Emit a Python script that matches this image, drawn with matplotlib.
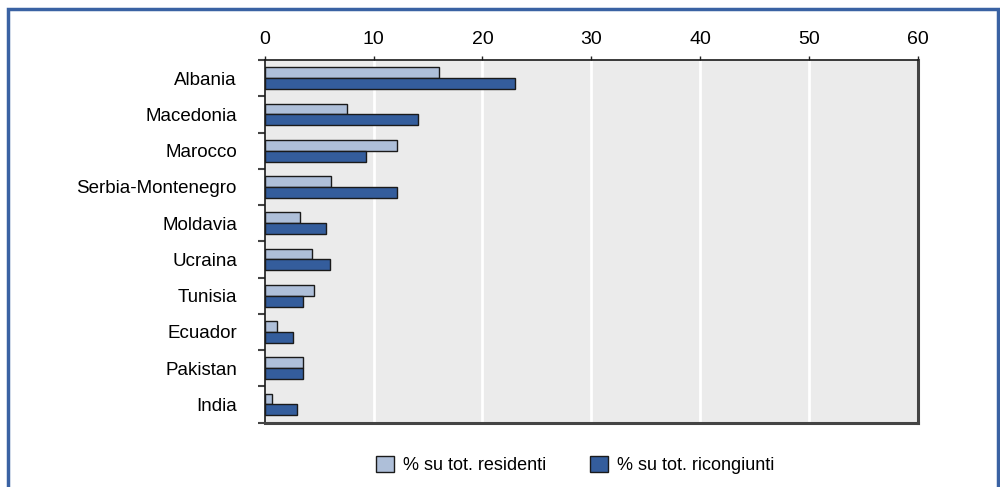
import matplotlib.pyplot as plt
from matplotlib.patches import Rectangle
import numpy as np

plt.rcParams['font.family'] = ['Liberation Sans', 'DejaVu Sans']

# Country shares, top to bottom
countries = ['Albania', 'Macedonia', 'Marocco', 'Serbia-Montenegro', 'Moldavia',
             'Ucraina', 'Tunisia', 'Ecuador', 'Pakistan', 'India']
residenti = [16.0, 7.6, 12.2, 6.1, 3.2, 4.3, 4.5, 1.1, 3.5, 0.7]
ricongiunti = [23.0, 14.1, 9.3, 12.2, 5.6, 6.0, 3.5, 2.6, 3.5, 3.0]
xticks = [0, 10, 20, 30, 40, 50, 60]

light = '#aebfd9'
dark = '#345d9c'

fig = plt.figure(figsize=(10, 4.87), dpi=100)
ax = fig.add_axes([0.2647, 0.1322, 0.6531, 0.7446])
ax.set_facecolor('#ebebeb')

y = np.arange(len(countries))
h = 0.3
ax.barh(y - h / 2, residenti, height=h, color=light, edgecolor='#1a1a1a',
        linewidth=1.0, label='% su tot. residenti', zorder=3)
ax.barh(y + h / 2, ricongiunti, height=h, color=dark, edgecolor='#1a1a1a',
        linewidth=1.0, label='% su tot. ricongiunti', zorder=3)

ax.set_xlim(0, 60)
ax.set_ylim(len(countries) - 0.5, -0.5)

# x axis on top, white vertical grid
ax.xaxis.tick_top()
ax.set_xticks(xticks)
ax.tick_params(axis='x', which='major', length=3, width=1, pad=5.5,
               labelsize=14, color='#222222')
for v in xticks[1:-1]:
    ax.axvline(v, color='white', linewidth=2, zorder=1)

# category labels centred, tick marks on band edges
ax.set_yticks(y)
ax.set_yticklabels(countries)
ax.set_yticks(np.arange(-0.5, len(countries), 1), minor=True)
ax.tick_params(axis='y', which='major', length=0, pad=20, labelsize=13.5)
ax.tick_params(axis='y', which='minor', length=5, width=1.5, color='#444444')

for side in ['top', 'left']:
    ax.spines[side].set_color('#1a1a1a')
    ax.spines[side].set_linewidth(1.2)
for side in ['bottom', 'right']:
    ax.spines[side].set_color('#444444')
    ax.spines[side].set_linewidth(2.2)

fig.legend(loc='center', bbox_to_anchor=(0.575, 0.045), ncol=2, frameon=False,
           fontsize=13, handlelength=1.0, handleheight=1.0, handletextpad=0.5,
           columnspacing=2.4)

# outer frame, open at the bottom
frame = Rectangle((0.008, -0.05), 0.990, 1.0315, transform=fig.transFigure,
                  fill=False, edgecolor='#3a62a3', linewidth=2.5, clip_on=False)
fig.patches.append(frame)

fig.savefig('out.png', dpi=100)
